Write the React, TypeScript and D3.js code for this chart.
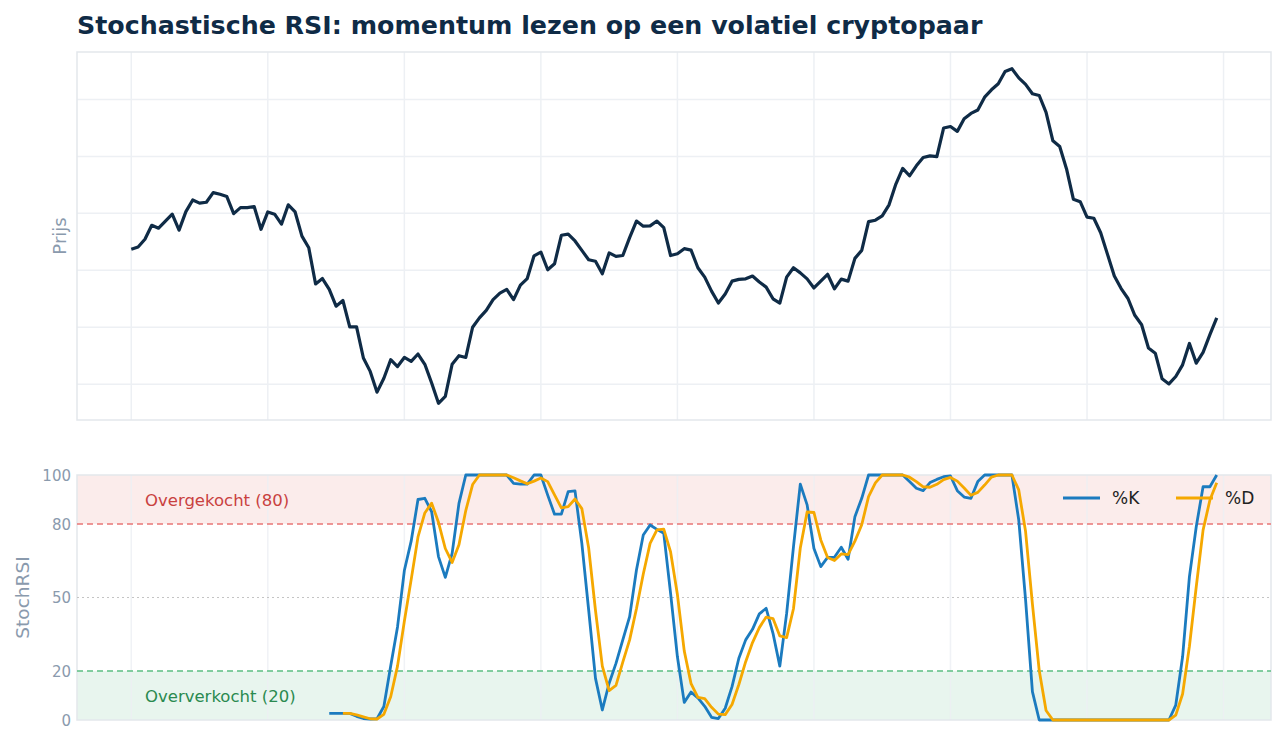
import * as d3 from 'd3';

// Koersreeks (160 perioden)
const price: number[] = [
  30740, 30820, 31090, 31580, 31480, 31730, 31970, 31410, 32060, 32470,
  32360, 32390, 32730, 32670, 32590, 31990, 32200, 32200, 32240, 31440,
  32050, 31970, 31620, 32300, 32050, 31200, 30790, 29520, 29710, 29330,
  28740, 28940, 28010, 28010, 26920, 26450, 25720, 26210, 26860, 26620,
  26940, 26800, 27060, 26700, 26040, 25330, 25570, 26700, 27000, 26940,
  28000, 28330, 28590, 28970, 29200, 29330, 28970, 29480, 29710, 30510,
  30640, 30020, 30230, 31230, 31270, 31030, 30700, 30370, 30320, 29880,
  30610, 30490, 30520, 31150, 31730, 31550, 31560, 31730, 31500, 30520,
  30580, 30760, 30710, 30090, 29760, 29270, 28850, 29170, 29620, 29680,
  29700, 29800, 29590, 29410, 29000, 28850, 29760, 30090, 29910, 29700,
  29380, 29620, 29860, 29350, 29690, 29620, 30420, 30700, 31710, 31760,
  31910, 32300, 33030, 33580, 33320, 33670, 33960, 34020, 33990, 35000,
  35050, 34880, 35320, 35510, 35630, 36080, 36340, 36550, 36980, 37080,
  36760, 36530, 36200, 36140, 35550, 34550, 34350, 33560, 32500, 32410,
  31870, 31830, 31320, 30560, 29800, 29360, 29010, 28420, 28090, 27270,
  27090, 26190, 26010, 26270, 26680, 27430, 26740, 27120, 27740, 28330,
];

const N = null;

// %K (eerste 29 perioden nog niet beschikbaar)
const stochK: (number | null)[] = [
  N, N, N, N, N, N, N, N, N, N, N, N, N, N, N, N, N, N, N, N,
  N, N, N, N, N, N, N, N, N, 2.7,
  2.7, 2.7, 2.7, 1.5, 0.6, 0.4, 0.5, 5.5, 22, 38,
  61, 73, 90, 90.5, 85, 66.7, 58.2, 68, 88.4, 100,
  100, 100, 100, 100, 100, 100, 96.6, 96.3, 96.3, 100,
  100, 91.8, 84, 84, 93.2, 93.5, 72.1, 44.9, 17, 4.1,
  15, 23.1, 32.7, 42.2, 61.2, 75.5, 79.6, 77.8, 76.2, 51.7,
  25.8, 7.2, 11.4, 9, 5.6, 1.1, 0.6, 4.8, 13.6, 25.2,
  32.7, 37, 43.3, 45.6, 35.4, 22, 43.5, 70.7, 96.3, 87.8,
  70, 62.6, 66.4, 66.4, 70.5, 65.6, 83, 90.5, 100, 100,
  100, 100, 100, 100, 97.3, 94.6, 93.6, 96.9, 98.2, 99.3,
  99.6, 93.6, 91, 90.5, 97.3, 100, 100, 100, 100, 100,
  81.6, 49, 11.6, 0, 0, 0, 0, 0, 0, 0,
  0, 0, 0, 0, 0, 0, 0, 0, 0, 0,
  0, 0, 0, 6.1, 25.8, 58.5, 78.9, 95.2, 95.2, 100,
];

// %D
const stochD: (number | null)[] = [
  N, N, N, N, N, N, N, N, N, N, N, N, N, N, N, N, N, N, N, N,
  N, N, N, N, N, N, N, N, N, N,
  N, 2.7, 2.7, 2.1, 1.3, 0.5, 0.4, 2.3, 9.5, 22,
  40.3, 57.3, 74.7, 84.5, 88.5, 80.7, 70, 64.3, 71.5, 85.5,
  96.1, 100, 100, 100, 100, 100, 98.9, 97.6, 96.4, 97.5,
  98.8, 97.3, 91.9, 86.6, 87.1, 90.2, 86.3, 70.2, 44.7, 22,
  12, 14.1, 23.6, 32.7, 45.4, 59.6, 72.1, 77.6, 77.9, 68.6,
  51.2, 28.2, 14.8, 9.2, 8.7, 5.2, 2.4, 2.2, 6.3, 14.5,
  23.8, 31.6, 37.7, 42, 41.4, 34.3, 33.6, 45.4, 70.2, 84.9,
  84.7, 73.5, 66.3, 65.1, 67.8, 67.5, 73, 79.7, 91.2, 96.8,
  100, 100, 100, 100, 99.1, 97.3, 95.2, 95, 96.2, 98.1,
  99, 97.5, 94.7, 91.7, 92.9, 95.9, 99.1, 100, 100, 100,
  93.9, 76.9, 47.4, 20.2, 3.9, 0, 0, 0, 0, 0,
  0, 0, 0, 0, 0, 0, 0, 0, 0, 0,
  0, 0, 0, 2, 10.6, 30.1, 54.4, 77.5, 89.8, 96.8,
];

const stochTicks = [0, 20, 50, 80, 100];
const priceTicks = [26000, 28000, 30000, 32000, 34000, 36000];
const xTicks = [0, 20, 40, 60, 80, 100, 120, 140, 160];

const W = 1284;
const H = 743;
const left = 77;
const right = 1271;
const top1 = 52;
const bottom1 = 420;
const top2 = 475;
const bottom2 = 720;

const C_PRICE = '#0f2b46';
const C_K = '#1b7bbf';
const C_D = '#f5a800';
const GRID = '#edf0f4';
const BORDER = '#e3e7ec';
const MUTED = '#8a9aad';
const FONT = '"DejaVu Sans", sans-serif';

export default function App() {
  const n = price.length;
  const pad = (n - 1) * 0.05;
  const x = d3.scaleLinear().domain([-pad, n - 1 + pad]).range([left, right]);

  const pMin = d3.min(price) ?? 0;
  const pMax = d3.max(price) ?? 1;
  const pPad = (pMax - pMin) * 0.05;
  const yP = d3.scaleLinear().domain([pMin - pPad, pMax + pPad]).range([bottom1, top1]);
  const yS = d3.scaleLinear().domain([0, 100]).range([bottom2, top2]);

  const priceLine = d3
    .line<number>()
    .x((_d, i) => x(i))
    .y((d) => yP(d));

  const stochLine = d3
    .line<number | null>()
    .defined((d) => d !== null)
    .x((_d, i) => x(i))
    .y((d) => yS(d as number));

  return (
    <div style={{ position: 'absolute', left: 0, top: 0 }}>
      <svg width={W} height={H} style={{ display: 'block', background: '#fff' }} fontFamily={FONT}>
        <text x={left} y={34} fontSize={25.3} fontWeight="bold" fill={C_PRICE}>
          Stochastische RSI: momentum lezen op een volatiel cryptopaar
        </text>

        {/* Koerspaneel */}
        <g>
          {priceTicks.map((t) => (
            <line key={t} x1={left} x2={right} y1={yP(t)} y2={yP(t)} stroke={GRID} strokeWidth={1.5} />
          ))}
          {xTicks.map((t) => (
            <line key={t} x1={x(t)} x2={x(t)} y1={top1} y2={bottom1} stroke={GRID} strokeWidth={1.5} />
          ))}
          <rect x={left} y={top1} width={right - left} height={bottom1 - top1} fill="none" stroke={BORDER} strokeWidth={1.5} />
          <path d={priceLine(price) ?? ''} fill="none" stroke={C_PRICE} strokeWidth={3.2} strokeLinejoin="round" />
          <text
            transform={`translate(66,${(top1 + bottom1) / 2}) rotate(-90)`}
            textAnchor="middle"
            fontSize={18}
            fill={MUTED}
          >
            Prijs
          </text>
        </g>

        {/* StochRSI-paneel */}
        <g>
          <rect x={left} y={yS(100)} width={right - left} height={yS(80) - yS(100)} fill="#fbeceb" />
          <rect x={left} y={yS(20)} width={right - left} height={yS(0) - yS(20)} fill="#e8f5ee" />
          {xTicks.map((t) => (
            <line key={t} x1={x(t)} x2={x(t)} y1={top2} y2={bottom2} stroke={GRID} strokeWidth={1.5} opacity={0.8} />
          ))}
          <rect x={left} y={top2} width={right - left} height={bottom2 - top2} fill="none" stroke={BORDER} strokeWidth={1.5} />
          <line x1={left} x2={right} y1={yS(80)} y2={yS(80)} stroke="#e97575" strokeWidth={1.5} strokeDasharray="6,4" />
          <line x1={left} x2={right} y1={yS(20)} y2={yS(20)} stroke="#5cbf82" strokeWidth={1.5} strokeDasharray="6,4" />
          <line x1={left} x2={right} y1={yS(50)} y2={yS(50)} stroke="#c4c4c4" strokeWidth={1.2} strokeDasharray="2,3" />

          <text x={145} y={yS(90) + 6} fontSize={16.5} fill="#c9413f">Overgekocht (80)</text>
          <text x={145} y={yS(10) + 6} fontSize={16.5} fill="#2a8a50">Oververkocht (20)</text>

          {stochTicks.map((t) => (
            <text key={t} x={71} y={yS(t) + 5.5} textAnchor="end" fontSize={15} fill={MUTED}>
              {t}
            </text>
          ))}
          <text
            transform={`translate(29,${(top2 + bottom2) / 2}) rotate(-90)`}
            textAnchor="middle"
            fontSize={18.5}
            fill={MUTED}
          >
            StochRSI
          </text>

          <path d={stochLine(stochK) ?? ''} fill="none" stroke={C_K} strokeWidth={2.8} strokeLinejoin="round" />
          <path d={stochLine(stochD) ?? ''} fill="none" stroke={C_D} strokeWidth={2.8} strokeLinejoin="round" />

          {/* Legenda */}
          <g fontSize={17} fill="#222">
            <line x1={1063} x2={1100} y1={498} y2={498} stroke={C_K} strokeWidth={3} />
            <text x={1112} y={504}>%K</text>
            <line x1={1176} x2={1213} y1={498} y2={498} stroke={C_D} strokeWidth={3} />
            <text x={1225} y={504}>%D</text>
          </g>
        </g>
      </svg>
    </div>
  );
}
